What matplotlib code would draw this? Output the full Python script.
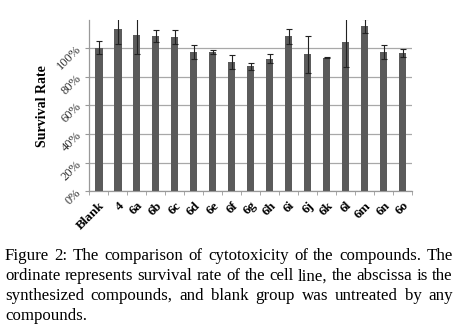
import numpy as np
import matplotlib.pyplot as plt
from matplotlib.ticker import PercentFormatter

plt.rcParams['font.family'] = ['Liberation Serif', 'DejaVu Serif']

labels = ["Blank", "4", "6a", "6b", "6c", "6d", "6e", "6f", "6g", "6h",
          "6i", "6j", "6k", "6l", "6m", "6n", "6o"]
survival = [100.0, 113.1, 108.7, 108.4, 107.5, 96.9, 97.1, 90.1, 87.1, 92.4,
            108.0, 95.7, 93.1, 104.0, 115.2, 97.1, 96.2]
errors = [4.6, 10.7, 13.0, 4.3, 4.7, 4.8, 1.7, 4.6, 2.4, 3.1,
          5.0, 12.9, 0.3, 17.0, 5.0, 4.6, 2.7]

caption = [
    "Figure 2: The comparison of cytotoxicity of the compounds. The",
    "ordinate represents survival rate of the cell line, the abscissa is the",
    "synthesized compounds, and blank group was untreated by any",
    "compounds.",
]

fig = plt.figure(figsize=(4.58, 3.32), dpi=100)
ax = fig.add_axes([0.195, 0.424, 0.705, 0.516])

x = np.arange(len(labels))
ax.bar(x, survival, width=0.39, color="#5b5b5b", zorder=3)
ax.errorbar(x, survival, yerr=errors, fmt="none", ecolor="#222222",
            elinewidth=0.8, capsize=2.5, capthick=0.8, zorder=4)

ax.set_xlim(-0.5, len(labels) - 0.5)
ax.set_ylim(0, 119.5)
ax.set_yticks([0, 20, 40, 60, 80, 100])
ax.yaxis.set_major_formatter(PercentFormatter(decimals=0))
ax.yaxis.grid(True, color="#a8a8a8", linewidth=0.9, zorder=0)

ax.set_xticks(x)
ax.set_xticklabels(labels, rotation=45, ha="right", rotation_mode="anchor",
                   fontweight="bold", fontsize=9.5)
ax.set_xticks(np.arange(len(labels) + 1) - 0.5, minor=True)
ax.tick_params(axis="x", which="major", length=0, pad=6)
ax.tick_params(axis="x", which="minor", length=3, color="#999999")
for lab in ax.get_yticklabels():
    lab.set_rotation(45)
    lab.set_fontsize(9)
    lab.set_color("#333333")
ax.tick_params(axis="y", length=3, color="#999999", pad=1)

for s in ["top", "right"]:
    ax.spines[s].set_visible(False)
for s in ["left", "bottom"]:
    ax.spines[s].set_color("#999999")
    ax.spines[s].set_linewidth(0.9)

ax.set_ylabel("Survival Rate", fontweight="bold", fontsize=10, labelpad=4)

# justified caption
renderer = fig.canvas.get_renderer()
x0, x1 = 5 / 458, 453 / 458
baselines = [260.5, 280.5, 300.5, 320.5]
fs = 12.2
for i, line in enumerate(caption):
    y = 1 - baselines[i] / 332
    words = line.split(" ")
    if i == len(caption) - 1:
        fig.text(x0, y, line, fontsize=fs, va="baseline", ha="left")
        continue
    widths = []
    for w in words:
        t = fig.text(0, 0, w, fontsize=fs)
        bb = t.get_window_extent(renderer=renderer)
        widths.append(bb.width / fig.bbox.width)
        t.remove()
    gap = (x1 - x0 - sum(widths)) / (len(words) - 1)
    pos = x0
    for w, wd in zip(words, widths):
        fig.text(pos, y, w, fontsize=fs, va="baseline", ha="left")
        pos += wd + gap

fig.savefig("out.png", dpi=100)
